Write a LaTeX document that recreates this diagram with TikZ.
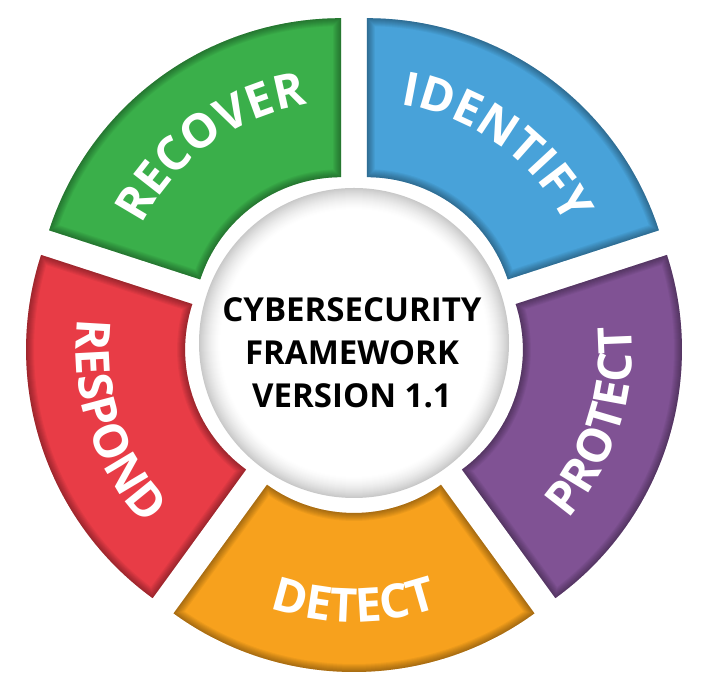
\documentclass[tikz,border=0pt]{standalone}
\usepackage{fontspec}
\newfontfamily\osans{Open Sans}
\newfontfamily\osanswide{Open Sans}[LetterSpace=6]
\usetikzlibrary{calc,decorations.text}
\definecolor{cgreen}{HTML}{3AAF4A}
\definecolor{cblue}{HTML}{48A2D9}
\definecolor{cpurple}{HTML}{805294}
\definecolor{corange}{HTML}{F7A11D}
\definecolor{cred}{HTML}{E83C46}
\newcommand\seglabelfont{\osanswide\bfseries\fontsize{47pt}{50pt}\selectfont}
\newcommand\cssegment[2]{%
  \coordinate (A) at ($(C)+(#1:22pt)$);
  \pgfmathsetmacro\sa{#1-36}\pgfmathsetmacro\ea{#1+36}%
  \def\segp{($(A)+(\sa:148pt)$) -- ($(A)+(\sa:307pt)$) arc[start angle=\sa, end angle=\ea, radius=307pt] -- ($(A)+(\ea:148pt)$) arc[start angle=\ea, end angle=\sa, radius=148pt] -- cycle}%
  \fill[#2] \segp;
  \begin{scope}
    \clip \segp;
    \foreach \w in {2,4,...,16} \draw[black, opacity=0.045, line width=\w pt] \segp;
  \end{scope}
}
\newcommand\arclabel[3]{%
  \pgfmathsetmacro\sa{#1-(#2)*62}\pgfmathsetmacro\ea{#1+(#2)*62}\pgfmathsetmacro\tr{240+(#2)*17}%
  \path[decorate, decoration={text along path, text={|\seglabelfont|#3}, text align=center, text color=white}]
    ($(C)+(#1:22pt)+(\sa:\tr pt)$) arc[start angle=\sa, end angle=\ea, radius=\tr pt];
}
\begin{document}
\begin{tikzpicture}[x=1pt,y=1pt]
\useasboundingbox (0,0) rectangle (705,698);
\fill[white] (0,0) rectangle (705,698);
\coordinate (C) at (354,355);
% centre disc with grey rim
\foreach \r in {155,154,...,133}{
  \pgfmathsetmacro\g{21*((\r-133)/22)^1.6}
  \fill[black!\g!white] (C) circle[radius=\r pt];
}
\node[font=\osans\bfseries\fontsize{33pt}{43pt}\selectfont, align=center, text=black] (title) at (352,345.5) {CYBERSECURITY\\FRAMEWORK\\VERSION 1.1};
% segments
\cssegment{54}{cblue}
\cssegment{-18}{cpurple}
\cssegment{-90}{corange}
\cssegment{-162}{cred}
\cssegment{126}{cgreen}
% labels
\arclabel{54}{-1}{IDENTIFY}
\arclabel{126}{-1}{RECOVER}
\arclabel{-18}{1}{PROTECT}
\arclabel{-90}{1}{DETECT}
\arclabel{-162}{1}{RESPOND}
\end{tikzpicture}
\end{document}
